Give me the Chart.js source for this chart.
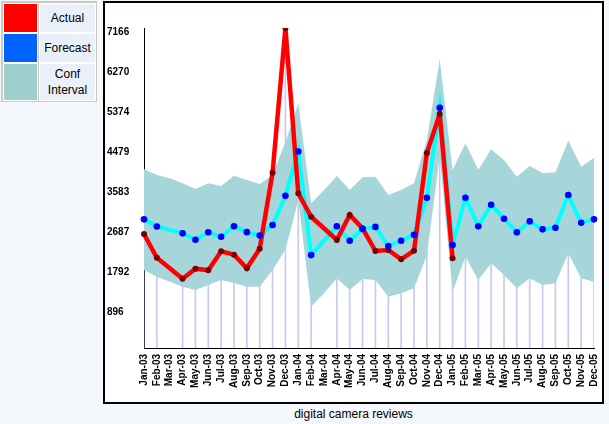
<!DOCTYPE html>
<html>
<head>
<meta charset="utf-8">
<script src="https://cdn.jsdelivr.net/npm/chart.js@4.4.0/dist/chart.umd.min.js"></script>
<style>
  body { margin: 0; width: 609px; height: 424px; background: #f4f7fc; position: relative; overflow: hidden;
         font-family: "Liberation Sans", Arial, sans-serif; }
  #legend { position: absolute; left: 1px; top: 1px; width: 96px; height: 101px; background: #cdc9bd; }
  .sw, .lb { position: absolute; box-sizing: border-box; border: 1px solid #fff; }
  .lb { background: #e9f0fa; color: #000; font-size: 12px; display: flex; align-items: center;
        justify-content: center; text-align: center; line-height: 16px; }
  #box { position: absolute; left: 103px; top: 1px; width: 497px; height: 399px; border: 2px solid #000; background: #fff; }
  #title { position: absolute; left: 103px; top: 406px; width: 501px; text-align: center; font-size: 12px; line-height: 16px; color: #000; }
</style>
</head>
<body>
<div id="legend">
  <div class="sw" style="left:2px;top:2px;width:35px;height:30px;background:#ff0000"></div>
  <div class="lb" style="left:38px;top:2px;width:57px;height:30px">Actual</div>
  <div class="sw" style="left:2px;top:32px;width:35px;height:30px;background:#0062ff"></div>
  <div class="lb" style="left:38px;top:32px;width:57px;height:30px">Forecast</div>
  <div class="sw" style="left:2px;top:62px;width:35px;height:38px;background:#9ecece"></div>
  <div class="lb" style="left:38px;top:62px;width:57px;height:38px">Conf<br>Interval</div>
</div>
<div id="box"><canvas id="myChart" width="497" height="399"></canvas></div>
<div id="title">digital camera reviews</div>
<script>
const months = ['Jan-03','Feb-03','Mar-03','Apr-03','May-03','Jun-03','Jul-03','Aug-03','Sep-03','Oct-03','Nov-03','Dec-03',
                'Jan-04','Feb-04','Mar-04','Apr-04','May-04','Jun-04','Jul-04','Aug-04','Sep-04','Oct-04','Nov-04','Dec-04',
                'Jan-05','Feb-05','Mar-05','Apr-05','May-05','Jun-05','Jul-05','Aug-05','Sep-05','Oct-05','Nov-05','Dec-05'];

const actual = [2553, 2022, null, 1552, 1776, 1739, 2165, 2090, 1784, 2224, 3925, 7166,
                3464, 2940, null, 2420, 2980, 2680, 2172, 2194, 1985, 2179, 4366, 5239,
                2008, null, null, null, null, null, null, null, null, null, null, null];

const forecast = [2881, 2722, null, 2568, 2425, 2590, 2490, 2725, 2594, 2520, 2754, 3407,
                  4400, 2080, null, 2725, 2403, 2665, 2712, 2284, 2403, 2537, 3366, 5381,
                  2306, 3366, 2725, 3209, 2896, 2590, 2836, 2657, 2694, 3426, 2806, 2881];

const confUpper = [4009, 3874, 3800, 3688, 3561, 3688, 3628, 3858, 3762, 3673, 3874, 4613,
                   5480, 3240, 3538, 3852, 3538, 3822, 3836, 3426, 3538, 3688, 4658, 6465,
                   3986, 4584, 3986, 4450, 4210, 3836, 4076, 3920, 3935, 4642, 4060, 4260];

const confLower = [1747, 1597, 1485, 1373, 1299, 1411, 1523, 1456, 1373, 1373, 1747, 2207,
                   3310, 925, 1225, 1561, 1299, 1545, 1523, 1149, 1225, 1337, 2074, 4297,
                   1261, 2045, 1523, 1897, 1635, 1337, 1561, 1411, 1449, 2121, 1561, 1485];

const yMax = 7166;
const yTickLabels = ['', '896', '1792', '2687', '3583', '4479', '5374', '6270', '7166'];

// drop lines go from the axis up to the highest point of the month
const dropTops = months.map((m, i) => {
  if (actual[i] == null && forecast[i] == null) return null;
  return Math.max(actual[i] ?? 0, forecast[i] ?? 0);
});

const ctx = document.getElementById('myChart').getContext('2d');
new Chart(ctx, {
  type: 'line',
  data: {
    labels: months,
    datasets: [
      { type: 'bar', data: dropTops, backgroundColor: 'rgba(140,150,225,0.5)', barThickness: 1, order: 6 },
      { data: confUpper, borderWidth: 0, pointRadius: 0, fill: '+1', backgroundColor: '#a6d6da', tension: 0, order: 5 },
      { data: confLower, borderWidth: 0, pointRadius: 0, fill: false, tension: 0, order: 4 },
      { data: forecast, borderColor: '#00ffff', borderWidth: 4, pointRadius: 0, spanGaps: true, order: 3 },
      { data: actual, borderColor: '#ff0000', borderWidth: 4.5, pointRadius: 3, pointBackgroundColor: '#7a0000',
        pointBorderWidth: 0, spanGaps: true, order: 2 },
      { data: forecast, showLine: false, pointRadius: 3.3, pointBackgroundColor: '#0000ff', pointBorderWidth: 0, order: 1 }
    ]
  },
  options: {
    responsive: false,
    animation: false,
    devicePixelRatio: 1,
    layout: { padding: { left: 2, top: 25, right: 8, bottom: 0 } },
    plugins: { legend: { display: false }, tooltip: { enabled: false } },
    scales: {
      x: {
        offset: false,
        grid: { display: false, drawTicks: false, offset: false },
        border: { display: true, color: '#000', width: 1 },
        ticks: { autoSkip: false, minRotation: 90, maxRotation: 90, padding: 6, color: '#000',
                 font: { family: 'Liberation Sans', size: 10, weight: 'bold' } },
        afterFit: s => { s.height = 54; s.paddingLeft = 0; s.paddingRight = 0; }
      },
      y: {
        min: 0, max: yMax,
        grid: { display: false, drawTicks: false },
        border: { display: true, color: '#000', width: 1 },
        ticks: { stepSize: yMax / 8, crossAlign: 'far', labelOffset: 4, color: '#000',
                 font: { family: 'Liberation Sans', size: 10, weight: 'bold' },
                 callback: (v, i) => yTickLabels[i] },
        afterFit: s => { s.width = 37; }
      }
    }
  }
});
</script>
</body>
</html>
